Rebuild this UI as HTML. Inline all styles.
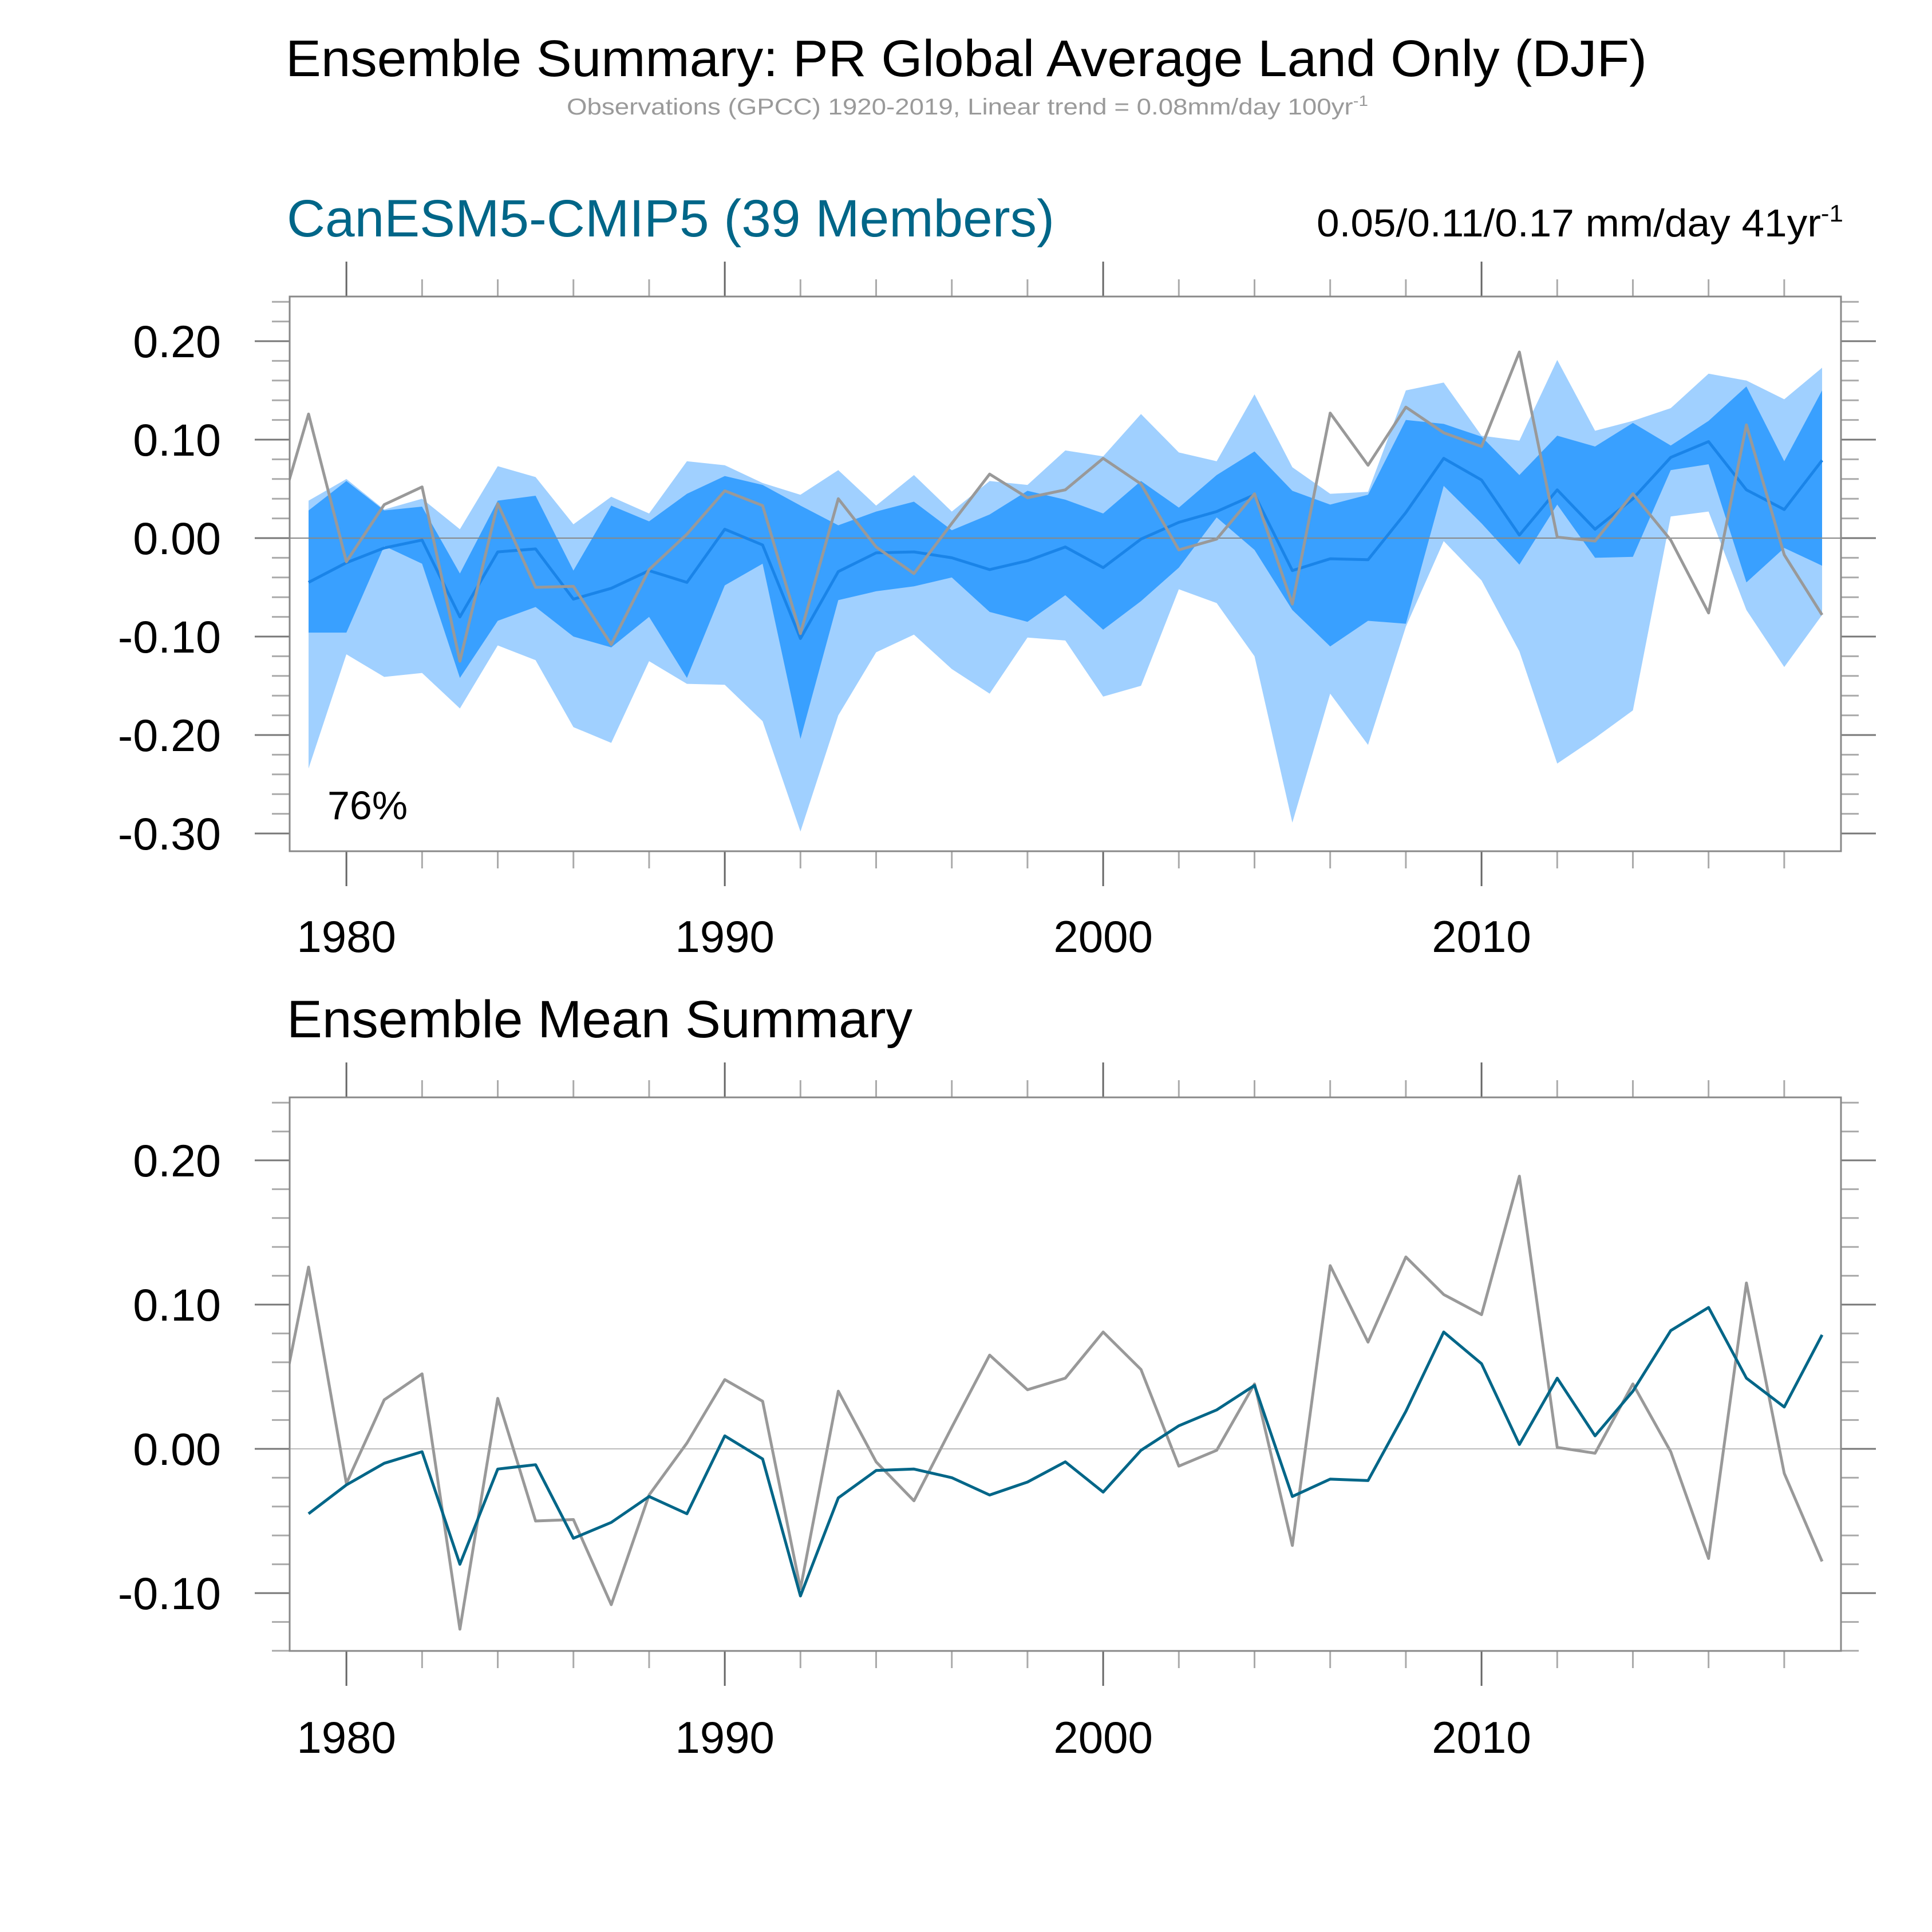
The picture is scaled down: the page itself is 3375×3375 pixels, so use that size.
<!DOCTYPE html>
<html><head><meta charset="utf-8"><style>
html,body{margin:0;padding:0;background:#fff;}
svg{display:block;font-family:"Liberation Sans",sans-serif;}
</style></head><body>
<svg id="chart" xmlns="http://www.w3.org/2000/svg" width="3375" height="3375" viewBox="0 0 3375 3375">
<rect width="3375" height="3375" fill="#fff"/>
<text x="499" y="133" font-size="90" textLength="2378" lengthAdjust="spacingAndGlyphs">Ensemble Summary: PR Global Average Land Only (DJF)</text>
<text x="990" y="200" font-size="40" fill="#9a9a9a" textLength="1400" lengthAdjust="spacingAndGlyphs">Observations (GPCC) 1920-2019, Linear trend = 0.08mm/day 100yr<tspan font-size="26" dy="-15">-1</tspan></text>
<text x="501" y="413" font-size="92" fill="#006688" textLength="1341" lengthAdjust="spacingAndGlyphs">CanESM5-CMIP5 (39 Members)</text>
<text x="2300" y="413" font-size="68" textLength="920" lengthAdjust="spacingAndGlyphs">0.05/0.11/0.17 mm/day 41yr<tspan font-size="42" dy="-26">-1</tspan></text>
<text x="501" y="1812" font-size="92" textLength="1093" lengthAdjust="spacingAndGlyphs">Ensemble Mean Summary</text>
<g id="g"></g>
</svg>
<script>
const years = [1979,1980,1981,1982,1983,1984,1985,1986,1987,1988,1989,1990,1991,1992,1993,1994,1995,1996,1997,1998,1999,2000,2001,2002,2003,2004,2005,2006,2007,2008,2009,2010,2011,2012,2013,2014,2015,2016,2017,2018,2019];
const ensMean = [-0.045,-0.025,-0.010,-0.002,-0.080,-0.014,-0.011,-0.062,-0.051,-0.033,-0.045,0.009,-0.007,-0.102,-0.034,-0.015,-0.014,-0.020,-0.032,-0.023,-0.009,-0.030,-0.001,0.016,0.027,0.044,-0.033,-0.021,-0.022,0.026,0.081,0.059,0.003,0.049,0.009,0.040,0.082,0.098,0.049,0.029,0.079];
const obsYears = [1978,1979,1980,1981,1982,1983,1984,1985,1986,1987,1988,1989,1990,1991,1992,1993,1994,1995,1996,1997,1998,1999,2000,2001,2002,2003,2004,2005,2006,2007,2008,2009,2010,2011,2012,2013,2014,2015,2016,2017,2018,2019];
const obs = [-0.005,0.126,-0.024,0.034,0.052,-0.125,0.035,-0.050,-0.049,-0.108,-0.032,0.004,0.048,0.033,-0.097,0.040,-0.009,-0.036,0.015,0.065,0.041,0.049,0.081,0.055,-0.012,-0.001,0.045,-0.067,0.127,0.074,0.133,0.107,0.093,0.189,0.001,-0.003,0.045,-0.002,-0.076,0.115,-0.017,-0.078];
const lightUpper = [0.038,0.060,0.029,0.040,0.009,0.073,0.062,0.014,0.042,0.025,0.078,0.074,0.056,0.044,0.069,0.033,0.064,0.027,0.058,0.054,0.089,0.083,0.126,0.087,0.078,0.146,0.072,0.045,0.047,0.150,0.158,0.104,0.099,0.181,0.109,0.119,0.132,0.167,0.160,0.141,0.173];
const darkUpper = [0.028,0.058,0.028,0.032,-0.036,0.038,0.043,-0.033,0.033,0.017,0.045,0.063,0.054,0.033,0.013,0.027,0.037,0.008,0.024,0.048,0.039,0.025,0.058,0.031,0.064,0.088,0.048,0.034,0.044,0.120,0.116,0.103,0.064,0.104,0.093,0.117,0.094,0.119,0.154,0.078,0.150];
const darkLower = [-0.096,-0.096,-0.008,-0.026,-0.142,-0.084,-0.070,-0.100,-0.111,-0.080,-0.142,-0.048,-0.026,-0.204,-0.063,-0.054,-0.049,-0.040,-0.075,-0.085,-0.058,-0.093,-0.064,-0.030,0.021,-0.012,-0.073,-0.110,-0.084,-0.087,0.053,0.015,-0.027,0.034,-0.020,-0.019,0.069,0.075,-0.045,-0.010,-0.028];
const lightLower = [-0.234,-0.118,-0.141,-0.137,-0.173,-0.109,-0.124,-0.192,-0.208,-0.125,-0.148,-0.149,-0.186,-0.298,-0.180,-0.116,-0.098,-0.133,-0.158,-0.101,-0.104,-0.161,-0.150,-0.052,-0.066,-0.120,-0.289,-0.158,-0.210,-0.090,-0.003,-0.043,-0.115,-0.229,-0.203,-0.175,0.022,0.027,-0.073,-0.131,-0.078];
const xTickLabels = ["1980","1990","2000","2010"];
const topYTickLabels = ["-0.30","-0.20","-0.10","0.00","0.10","0.20"];
const botYTickLabels = ["-0.10","0.00","0.10","0.20"];

const NS = "http://www.w3.org/2000/svg";
const root = document.getElementById('g');
function mk(tag, attrs, parent){const e=document.createElementNS(NS,tag);for(const k in attrs)e.setAttribute(k,attrs[k]);(parent||root).appendChild(e);return e;}

const X0=506, X1=3216, XMIN=1978.5, XMAX=2019.5;
function xs(yr){return X0+(yr-XMIN)/(XMAX-XMIN)*(X1-X0);}

function panel(name, top, bottom, zeroY, unit, yMinorFrom, yMinorTo, yMajors, yLabels, labelBaseline){
  const ys = v => zeroY - v*unit;
  const g = mk('g',{});
  
  
  const cid = name+'-clip';
  const cp = mk('clipPath',{id:cid},g);
  mk('rect',{x:X0,y:top,width:X1-X0,height:bottom-top},cp);
  const plot = mk('g',{'clip-path':'url(#'+cid+')'},g);
  const tg = mk('g',{stroke:'#8a8a8a','stroke-width':3},g);
  
  
  for(let yr=1980; yr<=2018; yr+=2){
    const major = yr%10===0, L = major?61:30, x=xs(yr);
    mk('line',{x1:x,x2:x,y1:top,y2:top-L,stroke: major?'#666':'#aaa'},tg);
    mk('line',{x1:x,x2:x,y1:bottom,y2:bottom+L,stroke: major?'#666':'#aaa'},tg);
  }
  for(let i=Math.round(yMinorFrom*50); i<=Math.round(yMinorTo*50); i++){
    const v=i/50, major = (i%5===0), L = major?61:31, y=ys(v);
    mk('line',{x1:X0,x2:X0-L,y1:y,y2:y,stroke: major?'#777':'#aaa'},tg);
    mk('line',{x1:X1,x2:X1+L,y1:y,y2:y,stroke: major?'#777':'#aaa'},tg);
  }
  yMajors.forEach((v,i)=>{
    const t = mk('text',{x:386,y:ys(v)+28,'font-size':79,'text-anchor':'end'},g);
    t.textContent = yLabels[i];
    
    
  });
  xTickLabels.forEach(s=>{
    const t = mk('text',{x:xs(+s),y:labelBaseline,'font-size':78,'text-anchor':'middle'},g);
    t.textContent = s;
    
    
  });
  return {plot, ys, g};
}
function poly(arrUp, arrLo, ys){
  let p=[];
  years.forEach((yr,i)=>p.push(xs(yr).toFixed(1)+','+ys(arrUp[i]).toFixed(1)));
  for(let i=years.length-1;i>=0;i--) p.push(xs(years[i]).toFixed(1)+','+ys(arrLo[i]).toFixed(1));
  return p.join(' ');
}
function line(xv, vals, ys){return xv.map((yr,i)=>xs(yr).toFixed(1)+','+ys(vals[i]).toFixed(1)).join(' ');}

const T = panel('top-panel', 518, 1487, 940, 1720, -0.30, 0.24, [-0.3,-0.2,-0.1,0,0.1,0.2], topYTickLabels, 1663);
const lb = mk('polygon',{points:poly(lightUpper,lightLower,T.ys),fill:'#a0d0ff'},T.plot);


const db = mk('polygon',{points:poly(darkUpper,darkLower,T.ys),fill:'#39a0ff'},T.plot);


const z1 = mk('line',{x1:X0,x2:X1,y1:T.ys(0),y2:T.ys(0),stroke:'#888','stroke-width':2},T.plot);


const m1 = mk('polyline',{points:line(years,ensMean,T.ys),fill:'none',stroke:'#1a84e8','stroke-width':5,'stroke-linejoin':'round'},T.plot);


const o1 = mk('polyline',{points:line(obsYears,obs,T.ys),fill:'none',stroke:'#999','stroke-width':5,'stroke-linejoin':'round'},T.plot);


const f1 = mk('rect',{x:X0,y:518,width:X1-X0,height:1487-518,fill:'none',stroke:'#888','stroke-width':3},T.g);


const pct = mk('text',{x:572,y:1431,'font-size':70},T.g);
pct.textContent = '76%';



const B = panel('bottom-panel', 1917, 2884, 2531, 2520, -0.14, 0.24, [-0.1,0,0.1,0.2], botYTickLabels, 3062);
const z2 = mk('line',{x1:X0,x2:X1,y1:B.ys(0),y2:B.ys(0),stroke:'#bbb','stroke-width':2},B.plot);


const o2 = mk('polyline',{points:line(obsYears,obs,B.ys),fill:'none',stroke:'#999','stroke-width':5,'stroke-linejoin':'round'},B.plot);


const m2 = mk('polyline',{points:line(years,ensMean,B.ys),fill:'none',stroke:'#006688','stroke-width':5,'stroke-linejoin':'round'},B.plot);


const f2 = mk('rect',{x:X0,y:1917,width:X1-X0,height:2884-1917,fill:'none',stroke:'#888','stroke-width':3},B.g);


</script>
</body></html>
